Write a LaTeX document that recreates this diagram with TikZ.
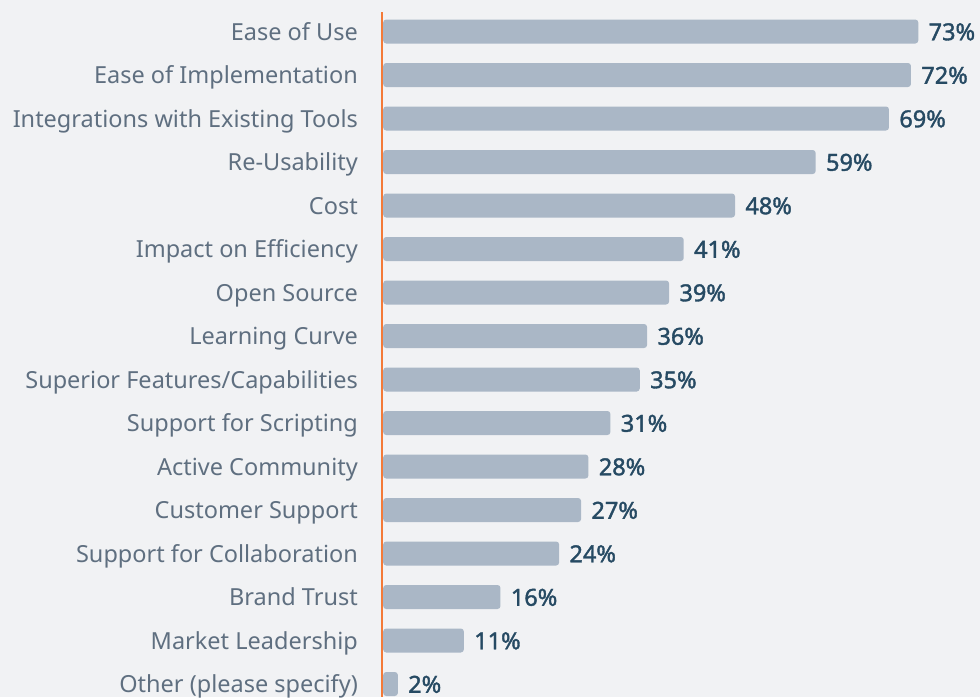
\documentclass[tikz,border=0pt]{standalone}
\usepackage{fontspec}
\setmainfont{Noto Sans}
\newfontfamily\valfont[FakeBold=1.6]{Noto Sans}
\usetikzlibrary{positioning}
\definecolor{bgcol}{HTML}{F1F2F4}
\definecolor{barcol}{HTML}{AAB7C6}
\definecolor{axiscol}{HTML}{F47A38}
\definecolor{labcol}{HTML}{5F6F80}
\definecolor{valcol}{HTML}{264A63}

\begin{document}
\begin{tikzpicture}[x=1pt,y=1pt,
 label/.style={anchor=east,text=labcol,font=\fontsize{23.5}{28}\selectfont,inner sep=0pt,text height=17.5pt,text depth=0pt},
 bar/.style={anchor=west,fill=barcol,rounded corners=3pt,minimum height=24pt,inner sep=0pt},
 value/.style={text=valcol,font=\fontsize{23.5}{28}\valfont,inner sep=0pt,text height=17.5pt,text depth=0pt}]
 \fill[bgcol] (0,0) rectangle (980,-697);
 \useasboundingbox (0,0) rectangle (980,-697);

 % bars, one per row
 \foreach \txt/\pct [count=\i from 0] in {
   Ease of Use/73, Ease of Implementation/72, Integrations with Existing Tools/69,
   Re-Usability/59, Cost/48, Impact on Efficiency/41, Open Source/39,
   Learning Curve/36, Superior Features\slash Capabilities/35, Support for Scripting/31,
   Active Community/28, Customer Support/27, Support for Collaboration/24,
   Brand Trust/16, Market Leadership/11, Other (please specify)/2}
 {
  \node[label] (l\i) at (358,-31.5-43.5*\i) {\txt};
  \node[bar, minimum width=7.33pt*\pct] (b\i) at (383,-31.5-43.5*\i) {};
  \node[value, right=10pt of b\i] (v\i) {\pct\%};
 }

 \coordinate (top) at (382,-12);
 \coordinate (bot) at (382,-697);
 \draw[axiscol, line width=2pt] (top) -- (bot);
\end{tikzpicture}
\end{document}
